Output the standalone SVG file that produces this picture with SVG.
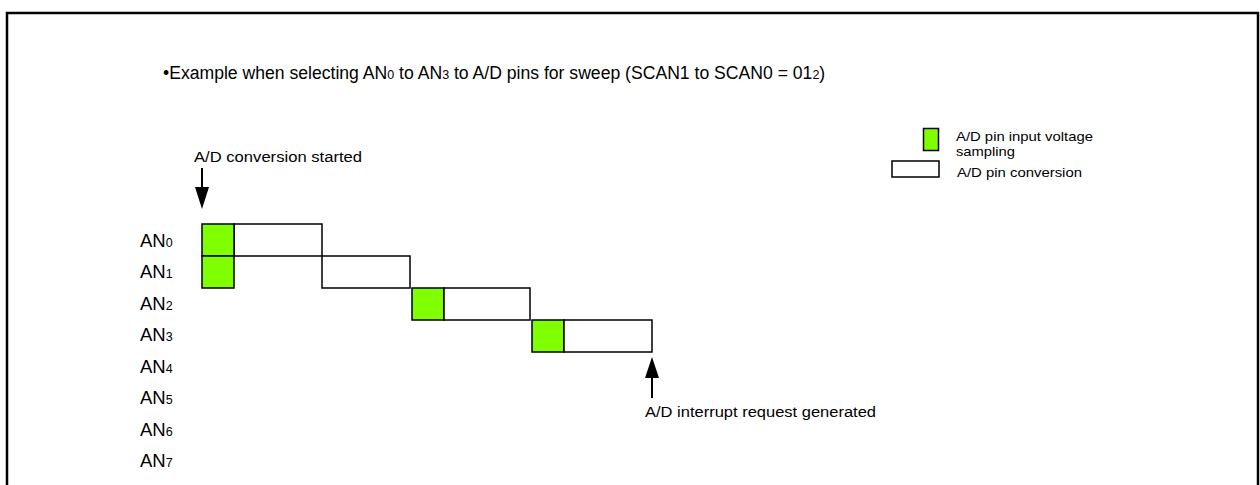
<svg xmlns="http://www.w3.org/2000/svg" width="1260" height="485" viewBox="0 0 1260 485">
<style>
text{font-family:"Liberation Sans",Arial,sans-serif;fill:#000}
.t{font-size:17.6px}
.an{font-size:18.5px}
.m{font-size:15.5px}
.s{font-size:13.5px}
.sub{font-size:12.5px}
.g{fill:#7FFF00;stroke:#000;stroke-width:1.5}
.w{fill:#fff;stroke:#000;stroke-width:1.5}
.ln{stroke:#000;stroke-width:2;fill:none}
</style>
<rect x="0" y="0" width="1260" height="485" fill="#fff"/>
<rect x="7" y="13" width="1251" height="520" fill="none" stroke="#000" stroke-width="2.5"/>
<text class="t" x="163" y="78.5">•Example when selecting AN<tspan class="sub">0</tspan> to AN<tspan class="sub">3</tspan> to A/D pins for sweep (SCAN1 to SCAN0 = 01<tspan class="sub">2</tspan>)</text>
<g id="labels">
<text class="an" x="140" y="246.5">AN<tspan class="sub">0</tspan></text>
<text class="an" x="140" y="278">AN<tspan class="sub">1</tspan></text>
<text class="an" x="140" y="309.5">AN<tspan class="sub">2</tspan></text>
<text class="an" x="140" y="341">AN<tspan class="sub">3</tspan></text>
<text class="an" x="140" y="372.5">AN<tspan class="sub">4</tspan></text>
<text class="an" x="140" y="404">AN<tspan class="sub">5</tspan></text>
<text class="an" x="140" y="435.5">AN<tspan class="sub">6</tspan></text>
<text class="an" x="140" y="467">AN<tspan class="sub">7</tspan></text>
</g>
<g id="an0"><rect class="w" x="234" y="224" width="88" height="32"/><rect class="g" x="202" y="224" width="32" height="32"/></g>
<g id="an1"><rect class="g" x="202" y="256" width="32" height="32"/><rect class="w" x="322" y="256" width="88" height="32"/></g>
<g id="an2"><rect class="g" x="412" y="288" width="32" height="32"/><rect class="w" x="444" y="288" width="86" height="32"/></g>
<g id="an3"><rect class="g" x="532" y="320" width="32" height="32"/><rect class="w" x="564" y="320" width="88" height="32"/></g>
<g id="connectors">
<line class="ln" x1="202" y1="168" x2="202" y2="190"/>
<polygon points="195,187 209,187 202,209" fill="#000"/>
<line class="ln" x1="652" y1="376" x2="652" y2="398"/>
<polygon points="645,378 659,378 652,357" fill="#000"/>
</g>
<g id="start"><text class="m" x="194" y="162" textLength="168" lengthAdjust="spacingAndGlyphs">A/D conversion started</text></g>
<g id="irq"><text class="m" x="645" y="416.5" textLength="231" lengthAdjust="spacingAndGlyphs">A/D interrupt request generated</text></g>
<g id="legend">
<rect class="g" x="923.5" y="128.5" width="15" height="22"/>
<rect class="w" x="892" y="161" width="47" height="16"/>
<text class="s" x="956" y="141" textLength="137" lengthAdjust="spacingAndGlyphs">A/D pin input voltage</text>
<text class="s" x="956" y="156" textLength="59" lengthAdjust="spacingAndGlyphs">sampling</text>
<text class="s" x="957" y="176.5" textLength="125" lengthAdjust="spacingAndGlyphs">A/D pin conversion</text>
</g>
</svg>
